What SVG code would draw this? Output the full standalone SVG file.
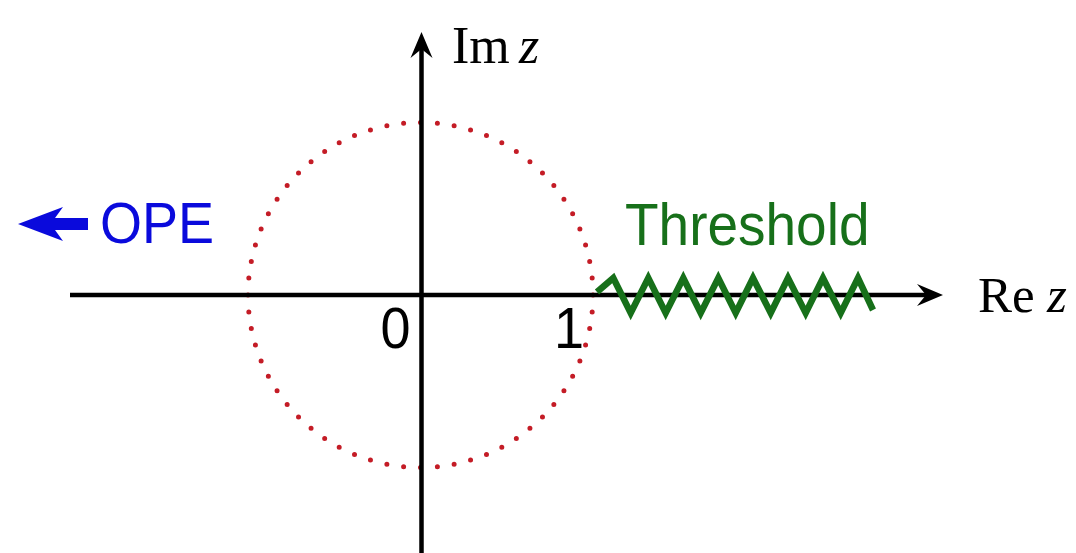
<svg xmlns="http://www.w3.org/2000/svg" width="1076" height="553" viewBox="0 0 1076 553">
  <style>
    .axis { stroke: #000; stroke-width: 4.5; fill: none; }
    .serif { font-family: "Liberation Serif", "Times New Roman", serif; fill: #000; }
    .sans { font-family: "Liberation Sans", Arial, sans-serif; }
    .dots { fill: none; stroke: #c41c26; stroke-width: 5; stroke-linecap: round; stroke-dasharray: 0 1; }
    .zig { fill: none; stroke: #17701a; stroke-width: 6.5; stroke-linejoin: miter; stroke-miterlimit: 10; }
  </style>
  <defs>
    <marker id="head" markerUnits="userSpaceOnUse" markerWidth="30" markerHeight="24" refX="9" refY="11" orient="auto" overflow="visible">
      <path d="M26,11 L0,0 L9,11 L0,22 Z" fill="#000"/>
    </marker>
  </defs>
  <rect width="1076" height="553" fill="#fff"/>

  <g id="unit-circle">
    <circle class="dots" cx="420.5" cy="295" r="172.5" pathLength="64"/>
  </g>

  <g id="connectors">
    <line class="axis" x1="70" y1="295" x2="926" y2="295" marker-end="url(#head)"/>
    <line class="axis" x1="421.5" y1="553" x2="421.5" y2="49" marker-end="url(#head)"/>
  </g>

  <g id="threshold-cut">
    <polyline class="zig" points="597,292 613.3,278 630.7,313 648.3,278 665.7,313 683.3,278 700.7,313 718.3,278 735.7,313 753,278 770.7,313 788,278 805.7,313 823,278 840.7,313 858,278 873,310"/>
  </g>

  <g id="label-im">
    <text class="serif" x="452" y="63" font-size="52">Im<tspan x="519" font-style="italic">z</tspan></text>
  </g>
  <g id="label-re">
    <text class="serif" x="978" y="312" font-size="51">Re<tspan x="1047" font-style="italic">z</tspan></text>
  </g>

  <g id="ope">
    <polygon points="18,224 63,207 55,218 88,218 88,230 55,230 63,241" fill="#0a0adc"/>
    <text class="sans" transform="translate(100,243) scale(1,1.07)" font-size="54" fill="#0a0adc">OPE</text>
  </g>

  <g id="threshold">
    <text class="sans" transform="translate(625,245) scale(1,1.07)" font-size="55" fill="#17701a">Threshold</text>
  </g>

  <g id="label-0">
    <text class="sans" transform="translate(380.5,348) scale(1,1.07)" font-size="54" fill="#000">0</text>
  </g>
  <g id="label-1">
    <text class="sans" transform="translate(554,348) scale(1,1.07)" font-size="54" fill="#000">1</text>
  </g>
</svg>
